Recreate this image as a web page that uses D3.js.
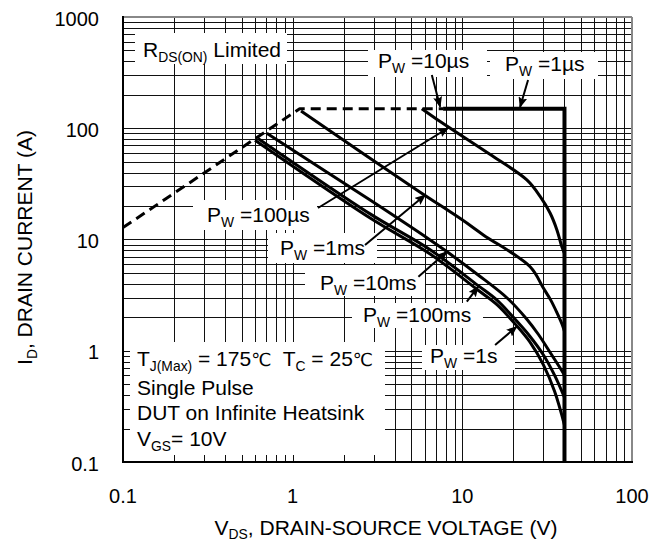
<!DOCTYPE html>
<html><head><meta charset="utf-8">
<script src="https://cdn.jsdelivr.net/npm/d3@7"></script>
<style>
body{margin:0;background:#fff;}
svg{display:block;font-family:"Liberation Sans",Arial,Helvetica,sans-serif;}
text{white-space:pre;}
</style>
</head><body>
<svg id="chart" width="665" height="542"></svg>
<script>
// ---------- data ----------
const xTickValues = [0.1, 1, 10, 100];
const xTickLabels = ["0.1", "1", "10", "100"];
const yTickValues = [0.1, 1, 10, 100, 1000];
const yTickLabels = ["0.1", "1", "10", "100", "1000"];

// R_DS(on) limit (dashed)  [V_DS, I_D]
const rdsLimit = [[0.1, 12.8], [1.1, 150], [7.7, 150]];
// current / voltage limit (solid, 1us)
const limit1us = [[7.7, 150], [40, 150], [40, 0.1]];
const pulse100us = [[5.77, 150], [7.4, 115], [15, 56.5], [24, 34.3], [28.8, 24.3], [32.9, 17.3], [36.1, 12.2], [38.6, 8.6], [40, 7.5]];
const pulse1ms = [[1.12, 143], [5.39, 27.9], [9.93, 15.1], [13.3, 11.0], [25.1, 5.69], [30.1, 3.64], [33.2, 2.85], [36.1, 2.2], [38.6, 1.75], [40, 1.5]];
const pulse10ms = [[0.704, 90], [2.86, 22.6], [6.46, 9.9], [8.13, 7.75], [12.4, 4.8], [18.5, 2.95], [24, 1.92], [28.1, 1.4], [33.6, 0.92], [38.6, 0.66], [40, 0.6]];
const pulse100ms = [[0.625, 81], [2.86, 17.0], [6.46, 8.1], [12.4, 3.85], [16, 2.85], [20.9, 1.85], [25, 1.35], [30, 0.92], [35, 0.6], [40, 0.38]];
const pulse1s = [[0.6, 78], [2.86, 15.6], [6.46, 7.4], [12.4, 3.5], [16, 2.6], [20.9, 1.68], [25, 1.2], [30, 0.75], [35, 0.43], [40, 0.215]];

// ---------- layout ----------
const plot = {left: 123, right: 632, top: 17, bottom: 462};
const svg = d3.select("#chart");
const x = d3.scaleLog().domain([0.1, 100]).range([plot.left, plot.right]);
const y = d3.scaleLog().domain([0.1, 1000]).range([plot.bottom, plot.top]);

// grid
const gridX = [], gridY = [];
for (let e = -1; e < 2; e++) for (let k = 1; k <= 9; k++) { const v = k * Math.pow(10, e); if (v > 0.1 + 1e-9) gridX.push(v); }
for (let e = -1; e < 3; e++) for (let k = 1; k <= 9; k++) { const v = k * Math.pow(10, e); if (v > 0.1 + 1e-9) gridY.push(v); }
const cr = v => Math.round(v) + 0.5;
const grid = svg.append("g").attr("stroke", "#111").attr("stroke-width", 1).attr("shape-rendering", "crispEdges");
grid.selectAll("line.gx").data(gridX).join("line").attr("class", "gx")
  .attr("x1", d => cr(x(d))).attr("x2", d => cr(x(d))).attr("y1", plot.top).attr("y2", plot.bottom);
grid.selectAll("line.gy").data(gridY).join("line").attr("class", "gy")
  .attr("y1", d => cr(y(d))).attr("y2", d => cr(y(d))).attr("x1", plot.left).attr("x2", plot.right);

// label background boxes (pixel layout)
const boxes = [
  [135, 33, 152, 31],   // RDS(on)
  [368, 50, 119, 27],   // 10us
  [490, 52, 108, 27],   // 1us
  [193, 200, 124, 30],  // 100us
  [268, 233, 109, 30],  // 1ms
  [305, 265, 120, 31],  // 10ms
  [352, 303, 131, 25],  // 100ms
  [422, 345, 93, 25],   // 1s
  [130, 342, 255, 113]  // conditions
];
svg.append("g").selectAll("rect").data(boxes).join("rect")
  .attr("x", d => d[0]).attr("y", d => d[1]).attr("width", d => d[2]).attr("height", d => d[3])
  .attr("fill", "#fff");

// frame
svg.append("line").attr("x1", plot.left).attr("x2", plot.right).attr("y1", plot.top).attr("y2", plot.top).attr("stroke", "#888").attr("stroke-width", 2);
svg.append("line").attr("x1", plot.right).attr("x2", plot.right).attr("y1", plot.top).attr("y2", plot.bottom).attr("stroke", "#888").attr("stroke-width", 2);
svg.append("line").attr("x1", plot.left).attr("x2", plot.left).attr("y1", plot.top - 1).attr("y2", plot.bottom + 1).attr("stroke", "#000").attr("stroke-width", 2);
svg.append("line").attr("x1", plot.left - 1).attr("x2", plot.right + 1).attr("y1", plot.bottom).attr("y2", plot.bottom).attr("stroke", "#000").attr("stroke-width", 2);

// curves
const line = d3.line().x(d => x(d[0])).y(d => y(d[1])).curve(d3.curveCatmullRom.alpha(0.5));
const lineStraight = d3.line().x(d => x(d[0])).y(d => y(d[1]));
const curves = svg.append("g").attr("fill", "none").attr("stroke", "#000").attr("stroke-linejoin", "round");
curves.append("path").datum(rdsLimit).attr("d", lineStraight).attr("stroke-width", 3).attr("stroke-dasharray", "10,6");
curves.append("path").datum(limit1us).attr("d", lineStraight).attr("stroke-width", 4).attr("stroke-linejoin", "miter");
[pulse100us, pulse1ms, pulse10ms, pulse100ms, pulse1s].forEach(s => {
  curves.append("path").datum(s).attr("d", line).attr("stroke-width", 3);
});

// arrows [fromV, fromI, toV, toI]
const arrows = [
  [6.61, 301, 7.40, 156],
  [24.4, 271, 21.9, 155],
  [1.41, 19.2, 8.25, 100.5],
  [2.67, 8.93, 6.04, 25.1],
  [5.51, 4.63, 8.11, 7.77],
  [10.63, 2.76, 12.4, 3.77],
  [15.6, 1.127, 20.9, 1.645]
];
const defs = svg.append("defs");
defs.append("marker").attr("id", "ah").attr("markerUnits", "userSpaceOnUse")
  .attr("markerWidth", 11).attr("markerHeight", 9).attr("refX", 10).attr("refY", 4.5).attr("orient", "auto")
  .append("path").attr("d", "M0,0 L11,4.5 L0,9 L2,4.5 Z").attr("fill", "#000");
svg.append("g").selectAll("line").data(arrows).join("line")
  .attr("x1", d => x(d[0])).attr("y1", d => y(d[1])).attr("x2", d => x(d[2])).attr("y2", d => y(d[3]))
  .attr("stroke", "#000").attr("stroke-width", 2).attr("marker-end", "url(#ah)");

// rich text helper
function rich(px, py, parts, size) {
  const t = svg.append("text").attr("x", px).attr("y", py).attr("font-size", size).attr("fill", "#000");
  let shifted = false;
  parts.forEach(p => {
    const [s, sub, fam, fs] = p;
    const ts = t.append("tspan").text(s);
    if (sub) { ts.attr("font-size", size * 0.66).attr("dy", shifted ? 0 : 5); shifted = true; }
    else { if (shifted) { ts.attr("dy", -5); shifted = false; } }
    if (fam) ts.attr("font-family", fam);
    if (fs) ts.attr("font-size", fs);
  });
  return t;
}
const FS = 21;
rich(143, 57, [["R"], ["DS(ON)", 1], [" Limited"]], FS);
rich(378, 68, [["P"], ["W", 1], [" =10µs"]], FS);
rich(505, 71, [["P"], ["W", 1], [" =1µs"]], FS);
rich(207, 222, [["P"], ["W", 1], [" =100µs"]], FS);
rich(280, 255, [["P"], ["W", 1], [" =1ms"]], FS);
rich(320, 290, [["P"], ["W", 1], [" =10ms"]], FS);
rich(363, 322, [["P"], ["W", 1], [" =100ms"]], FS);
rich(430, 363, [["P"], ["W", 1], [" =1s"]], FS);
rich(137, 366, [["T"], ["J(Max)", 1], [" = 175"], ["℃", 0, "DejaVu Sans", 18], ["  T"], ["C", 1], [" = 25"], ["℃", 0, "DejaVu Sans", 18]], FS);
rich(137, 395, [["Single Pulse"]], FS);
rich(137, 420, [["DUT on Infinite Heatsink"]], FS);
rich(137, 446, [["V"], ["GS", 1], ["= 10V"]], FS);

// tick labels
svg.append("g").selectAll("text").data(xTickValues).join("text")
  .attr("x", d => x(d)).attr("y", 503).attr("text-anchor", "middle").attr("font-size", 20)
  .text((d, i) => xTickLabels[i]);
svg.append("g").selectAll("text").data(yTickValues).join("text")
  .attr("x", 99).attr("y", d => y(d) + 8.5).attr("text-anchor", "end").attr("font-size", 20)
  .text((d, i) => yTickLabels[i]);

// axis titles
const xt = svg.append("text").attr("x", 386).attr("y", 535).attr("text-anchor", "middle").attr("font-size", FS);
xt.append("tspan").text("V");
xt.append("tspan").text("DS").attr("font-size", FS * 0.66).attr("dy", 4);
xt.append("tspan").text(", DRAIN-SOURCE VOLTAGE (V)").attr("dy", -4);
const yt = svg.append("text").attr("transform", "translate(31.5,247.5) rotate(-90)").attr("text-anchor", "middle").attr("font-size", FS);
yt.append("tspan").text("I");
yt.append("tspan").text("D").attr("font-size", FS * 0.66).attr("dy", 5);
yt.append("tspan").text(", DRAIN CURRENT (A)").attr("dy", -5);
</script>
</body></html>
